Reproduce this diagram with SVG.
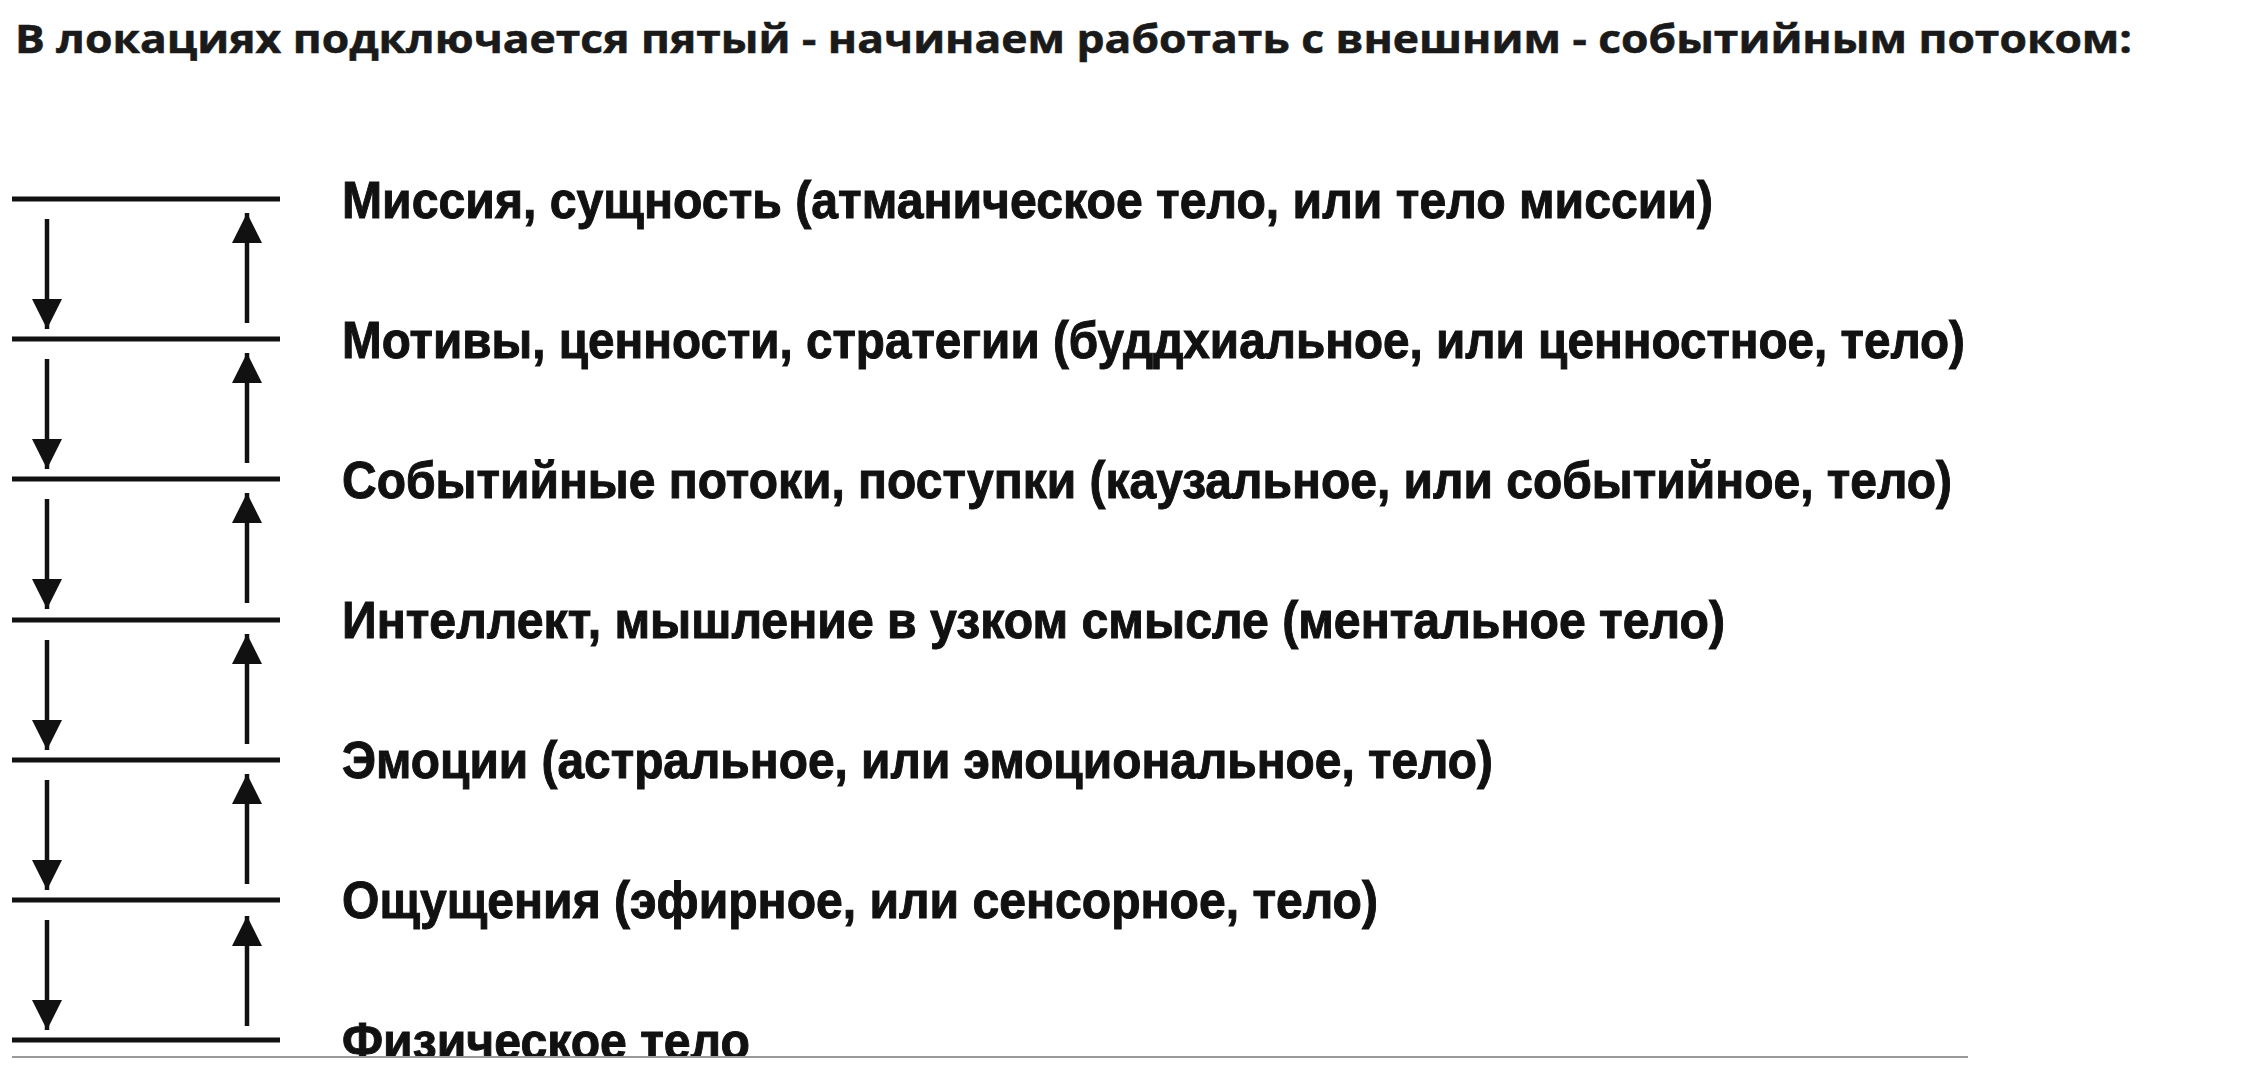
<svg xmlns="http://www.w3.org/2000/svg" width="2266" height="1080" viewBox="0 0 2266 1080">
  <style>
    .title { font-family: "Open Sans", "Liberation Sans", sans-serif; font-weight: 700; font-size: 40px; fill: #1a1a1a; stroke: #1a1a1a; stroke-width: 0.6px; }
    .label { font-family: "Liberation Sans", Arial, sans-serif; font-weight: 700; font-size: 52px; fill: #111; stroke: #111; stroke-width: 1px; }
    .level { stroke: #111; stroke-width: 5; fill: none; }
    .arrow { stroke: #111; stroke-width: 4.5; fill: none; }
  </style>
  <defs>
    <marker id="head" markerUnits="userSpaceOnUse" markerWidth="30" markerHeight="30" refX="30" refY="15" orient="auto">
      <path d="M0,0 L30,15 L0,30 Z" fill="#111"/>
    </marker>
  </defs>
  <rect width="2266" height="1080" fill="#ffffff"/>

  <g id="title">
    <text class="title" x="15" y="53" textLength="2117" lengthAdjust="spacingAndGlyphs">В локациях подключается пятый - начинаем работать с внешним - событийным потоком:</text>
  </g>

  <g id="level-mission">
    <line class="level" x1="12" y1="199" x2="280" y2="199"/>
    <text class="label" x="342" y="218" textLength="1371" lengthAdjust="spacingAndGlyphs">Миссия, сущность (атманическое тело, или тело миссии)</text>
  </g>
  <g id="level-motives">
    <line class="level" x1="12" y1="339" x2="280" y2="339"/>
    <text class="label" x="342" y="358" textLength="1623" lengthAdjust="spacingAndGlyphs">Мотивы, ценности, стратегии (буддхиальное, или ценностное, тело)</text>
  </g>
  <g id="level-events">
    <line class="level" x1="12" y1="479" x2="280" y2="479"/>
    <text class="label" x="342" y="498" textLength="1610" lengthAdjust="spacingAndGlyphs">Событийные потоки, поступки (каузальное, или событийное, тело)</text>
  </g>
  <g id="level-intellect">
    <line class="level" x1="12" y1="620" x2="280" y2="620"/>
    <text class="label" x="342" y="638" textLength="1383" lengthAdjust="spacingAndGlyphs">Интеллект, мышление в узком смысле (ментальное тело)</text>
  </g>
  <g id="level-emotions">
    <line class="level" x1="12" y1="760" x2="280" y2="760"/>
    <text class="label" x="342" y="778" textLength="1151" lengthAdjust="spacingAndGlyphs">Эмоции (астральное, или эмоциональное, тело)</text>
  </g>
  <g id="level-sensations">
    <line class="level" x1="12" y1="900" x2="280" y2="900"/>
    <text class="label" x="342" y="918" textLength="1036" lengthAdjust="spacingAndGlyphs">Ощущения (эфирное, или сенсорное, тело)</text>
  </g>
  <g id="level-physical">
    <line class="level" x1="12" y1="1040" x2="280" y2="1040"/>
    <text class="label" x="342" y="1059" textLength="408" lengthAdjust="spacingAndGlyphs">Физическое тело</text>
    <rect x="0" y="1058" width="2266" height="22" fill="#ffffff"/>
    <line x1="12" y1="1057" x2="1968" y2="1057" stroke="#9a9a9a" stroke-width="2"/>
  </g>

  <g id="connectors">
    <line class="arrow" x1="47" y1="219" x2="47" y2="329" marker-end="url(#head)"/>
    <line class="arrow" x1="247" y1="323" x2="247" y2="213" marker-end="url(#head)"/>
    <line class="arrow" x1="47" y1="359" x2="47" y2="469" marker-end="url(#head)"/>
    <line class="arrow" x1="247" y1="463" x2="247" y2="353" marker-end="url(#head)"/>
    <line class="arrow" x1="47" y1="499" x2="47" y2="609" marker-end="url(#head)"/>
    <line class="arrow" x1="247" y1="603" x2="247" y2="493" marker-end="url(#head)"/>
    <line class="arrow" x1="47" y1="640" x2="47" y2="750" marker-end="url(#head)"/>
    <line class="arrow" x1="247" y1="744" x2="247" y2="634" marker-end="url(#head)"/>
    <line class="arrow" x1="47" y1="780" x2="47" y2="890" marker-end="url(#head)"/>
    <line class="arrow" x1="247" y1="884" x2="247" y2="774" marker-end="url(#head)"/>
    <line class="arrow" x1="47" y1="920" x2="47" y2="1030" marker-end="url(#head)"/>
    <line class="arrow" x1="247" y1="1026" x2="247" y2="916" marker-end="url(#head)"/>
  </g>
</svg>
